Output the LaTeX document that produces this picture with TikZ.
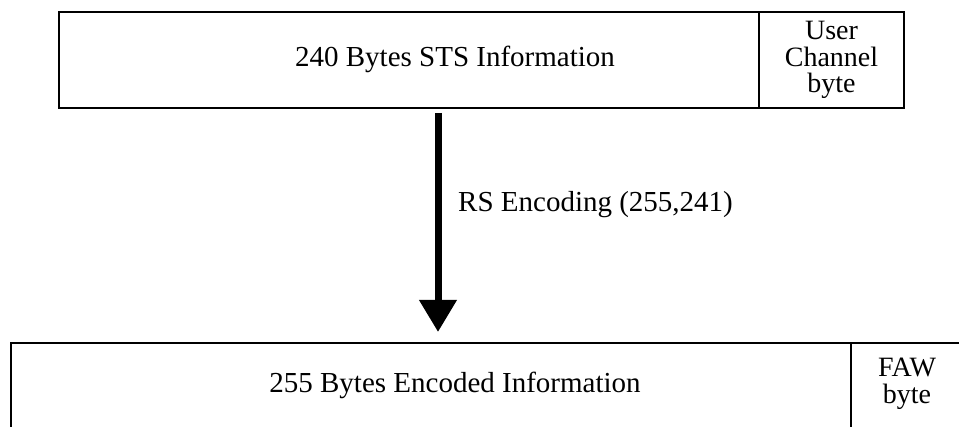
\documentclass[tikz,border=0pt]{standalone}
\usepackage{fontspec}
\setmainfont{Liberation Serif}
\usetikzlibrary{arrows.meta}
\tikzset{
  cell/.style={draw=black, line width=2pt, rectangle, inner sep=0pt, anchor=north west},
  maintext/.style={font=\fontsize{29}{32}\selectfont, inner sep=0pt},
  smalltext/.style={font=\fontsize{28}{26.5}\selectfont, align=center, inner sep=0pt},
  bigarrow/.style={line width=7pt, -{Triangle[width=36pt,length=32pt]}}
}
\begin{document}
\begin{tikzpicture}[x=1pt,y=-1pt]
\useasboundingbox (0,0) rectangle (959,427);
\clip (0,0) rectangle (959,427);
% top record
\node[cell, minimum width=700pt, minimum height=96pt] (stscell) at (58,11) {};
\node[cell, minimum width=145pt, minimum height=96pt] (usercell) at (758,11) {};
\node[maintext] (ststext) at (455,59) {240 Bytes STS Information};
\node[smalltext] (usertext) at (usercell.center) {User\\Channel\\byte};
% bottom record
\node[cell, minimum width=840pt, minimum height=96pt] (enccell) at (10,342) {};
\node[cell, minimum width=114pt, minimum height=96pt] (fawcell) at (850,342) {};
\node[maintext] (enctext) at (455,385) {255 Bytes Encoded Information};
\node[smalltext] (fawtext) at (907,384) {FAW\\byte};
% arrow
\coordinate (astart) at (438,113);
\coordinate (aend) at (438,332);
\draw[bigarrow] (astart) -- (aend);
\node[maintext, anchor=west] (rslabel) at (458,205) {RS Encoding (255,241)};
\end{tikzpicture}
\end{document}
